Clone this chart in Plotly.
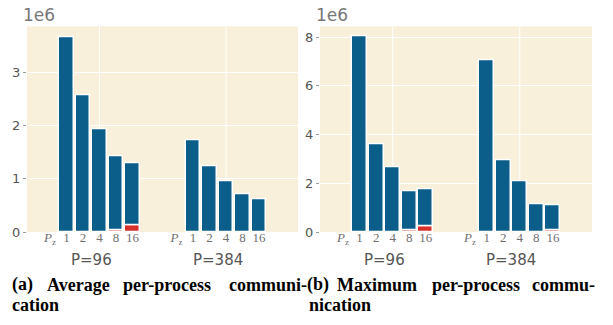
import plotly.graph_objects as go

W, H = 613, 325

# ---- data ----
pz_labels = ["1", "2", "4", "8", "16"]
groups = ["P=96", "P=384"]
avg_total_96 = [3.66e6, 2.565e6, 1.925e6, 1.43e6, 1.29e6]
avg_red_96 = [0, 0, 0, 0.03e6, 0.12e6]
avg_total_384 = [1.73e6, 1.23e6, 0.95e6, 0.71e6, 0.62e6]
avg_red_384 = [0, 0, 0, 0, 0]
max_total_96 = [8.01e6, 3.59e6, 2.65e6, 1.69e6, 1.75e6]
max_red_96 = [0, 0, 0, 0.08e6, 0.22e6]
max_total_384 = [7.03e6, 2.96e6, 2.08e6, 1.15e6, 1.08e6]
max_red_384 = [0, 0, 0, 0, 0.08e6]

BLUE = "#0B5E8A"
RED = "#D9302A"
BG = "#F8F0DA"
GRAY = "#555555"

g_off = [0.0, 7.67]
pos = [[o + 1 + i for i in range(5)] for o in g_off]

fig = go.Figure()

def add_panel(xa, ya, tot96, red96, tot384, red384):
    for k, (tot, red) in enumerate([(tot96, red96), (tot384, red384)]):
        blue = [t - r for t, r in zip(tot, red)]
        fig.add_trace(go.Bar(x=pos[k], y=red, marker=dict(color=RED, line=dict(color="white", width=1.5)),
                             width=0.9, xaxis=xa, yaxis=ya, showlegend=False))
        fig.add_trace(go.Bar(x=pos[k], y=blue, base=red, marker=dict(color=BLUE, line=dict(color="white", width=1.5)),
                             width=0.9, xaxis=xa, yaxis=ya, showlegend=False))

add_panel("x", "y", avg_total_96, avg_red_96, avg_total_384, avg_red_384)
add_panel("x2", "y2", max_total_96, max_red_96, max_total_384, max_red_384)

ydom = [1 - 238 / H, 1 - 27 / H]
xr = [-1.39, 15.03]
tickvals = []
ticktext = []
for k in range(2):
    tickvals.append(g_off[k])
    ticktext.append("<i>P</i><sub>z</sub>")
    tickvals += pos[k]
    ticktext += pz_labels

xcommon = dict(range=xr, showgrid=False, zeroline=False, tickvals=tickvals, ticktext=ticktext,
               tickfont=dict(family="Liberation Serif", size=13, color="#707070"), ticks="", ticklen=0,
               ticklabelstandoff=-4)
ycommon = dict(showgrid=True, gridcolor="white", gridwidth=1, zeroline=False, ticks="outside", ticklen=3,
               tickcolor="#999999", tickfont=dict(family="DejaVu Sans", size=13, color=GRAY))

fig.update_layout(
    width=W, height=H, margin=dict(l=0, r=0, t=0, b=0),
    paper_bgcolor="white", plot_bgcolor=BG, barmode="overlay", bargap=0,
    xaxis=dict(domain=[27 / W, 298 / W], anchor="y", **xcommon),
    yaxis=dict(domain=ydom, anchor="x", range=[0, 3.86e6], tickvals=[0, 1e6, 2e6, 3e6],
               ticktext=["0", "1", "2", "3"], **ycommon),
    xaxis2=dict(domain=[320 / W, 592 / W], anchor="y2", **xcommon),
    yaxis2=dict(domain=ydom, anchor="x2", range=[0, 8.44e6], tickvals=[0, 2e6, 4e6, 6e6, 8e6],
                ticktext=["0", "2", "4", "6", "8"], **ycommon),
)

for xa, ya in [("x", "y"), ("x2", "y2")]:
    for k in range(2):
        fig.add_shape(type="line", xref=xa, yref=ya + " domain", x0=pos[k][2], x1=pos[k][2], y0=0, y1=1,
                      line=dict(color="white", width=1), layer="below")
    for k, g in enumerate(groups):
        fig.add_annotation(xref=xa, yref="paper", x=g_off[k] + 2.5, y=1 - 267 / H, text=g, showarrow=False,
                           font=dict(family="DejaVu Sans", size=15, color=GRAY), xanchor="center", yanchor="middle")

for x0 in [21, 314]:
    fig.add_annotation(xref="paper", yref="paper", x=x0 / W, y=1 - 15 / H, text="1e6", showarrow=False,
                       font=dict(family="DejaVu Sans", size=17, color="#777777"), xanchor="left", yanchor="middle")

cap_font = dict(family="Liberation Serif", size=18, color="black")
caption_words = [
    ("(a)", 10, 292), ("Average", 45, 292), ("per-process", 121, 292), ("communi-", 227, 292), ("cation", 10, 313),
    ("(b)", 305, 292), ("Maximum", 335, 292), ("per-process", 430, 292), ("commu-", 530, 292), ("nication", 307, 313),
]
for w, x0, y0 in caption_words:
    fig.add_annotation(xref="paper", yref="paper", x=x0 / W, y=1 - y0 / H, text="<b>" + w + "</b>", showarrow=False,
                       font=cap_font, xanchor="left", yanchor="middle")

fig.write_html("out.html", config={"displayModeBar": False},
               post_script="document.body.style.margin='0';document.body.style.overflow='hidden';")
